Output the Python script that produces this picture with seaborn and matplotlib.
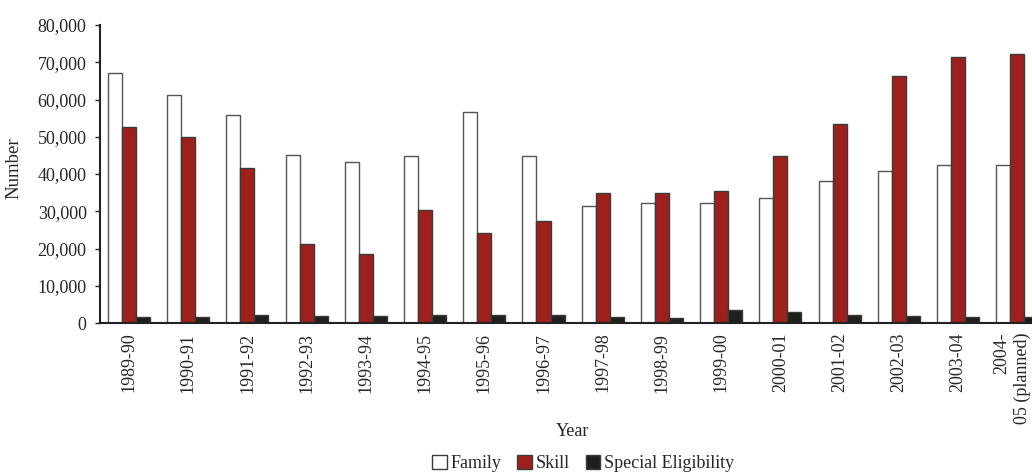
import numpy as np
import pandas as pd
import matplotlib
matplotlib.use('Agg')
import matplotlib.pyplot as plt
import matplotlib.transforms as mtransforms
import seaborn as sns

years = ['1989-90', '1990-91', '1991-92', '1992-93', '1993-94', '1994-95',
         '1995-96', '1996-97', '1997-98', '1998-99', '1999-00', '2000-01',
         '2001-02', '2002-03', '2003-04', '2004-\n05 (planned)']
family = [67000, 61200, 55900, 45200, 43300, 44700, 56700, 44800,
          31400, 32200, 32200, 33600, 38000, 40900, 42500, 42300]
skill = [52700, 49800, 41500, 21300, 18400, 30400, 24100, 27500,
         34800, 35000, 35500, 44900, 53500, 66200, 71300, 72300]
special = [1500, 1500, 2100, 2000, 1800, 2100, 2100, 2200,
           1500, 1300, 3400, 2900, 2200, 1900, 1500, 1500]
categories = ['Family', 'Skill', 'Special Eligibility']
colors = {'Family': '#ffffff', 'Skill': '#9e201d', 'Special Eligibility': '#1e201c'}

df = pd.DataFrame({
    'Year': years * 3,
    'Number': family + skill + special,
    'Type': [c for c in categories for _ in years],
})

sns.set_style('white')
plt.rcParams['font.family'] = ['Liberation Serif', 'DejaVu Serif']
fs = 13

fig = plt.figure(figsize=(10.32, 4.72), dpi=100)
ax = fig.add_axes([100 / 1032, 1 - 323 / 472, 932 / 1032, 298 / 472])

sns.barplot(data=df, x='Year', y='Number', hue='Type', order=years,
            hue_order=categories, palette=colors, width=0.71,
            edgecolor='#3a3a3a', linewidth=1, saturation=1, ax=ax)

# family bars have a lighter outline
for bar in ax.patches[:len(years)]:
    bar.set_edgecolor('#555555')

ax.set_ylim(0, 80000)
ax.set_xlim(-0.49, 15.25)
ax.set_yticks(np.arange(0, 80001, 10000))
ax.yaxis.set_major_formatter(matplotlib.ticker.StrMethodFormatter('{x:,.0f}'))
ax.tick_params(axis='y', length=3.6, width=1, color='#222222', pad=6, labelsize=fs, left=True)
ax.tick_params(axis='x', length=0, pad=7, labelsize=fs)
plt.setp(ax.get_xticklabels(), rotation=90, ha='center', va='top', multialignment='right')

# nudge the two-line last label so it stays inside the figure
last = ax.get_xticklabels()[-1]
last.set_transform(last.get_transform() + mtransforms.ScaledTranslation(-0.05, 0, fig.dpi_scale_trans))

for side in ['top', 'right']:
    ax.spines[side].set_visible(False)
for side in ['left', 'bottom']:
    ax.spines[side].set_color('#222222')
    ax.spines[side].set_linewidth(1.5)

ax.set_ylabel('Number', fontsize=fs + 0.5)
ax.yaxis.set_label_coords(-0.083, 0.52)
ax.set_xlabel('Year', fontsize=fs)
ax.xaxis.set_label_coords(0.5075, -0.336)

handles, labels = ax.get_legend_handles_labels()
ax.legend_.remove()
fig.legend(handles, labels, loc='center', bbox_to_anchor=(583 / 1032, 0.018),
           ncol=3, frameon=False, fontsize=fs, handlelength=0.8,
           handleheight=0.8, handletextpad=0.2, columnspacing=0.9)

fig.savefig('out.png', dpi=100)
